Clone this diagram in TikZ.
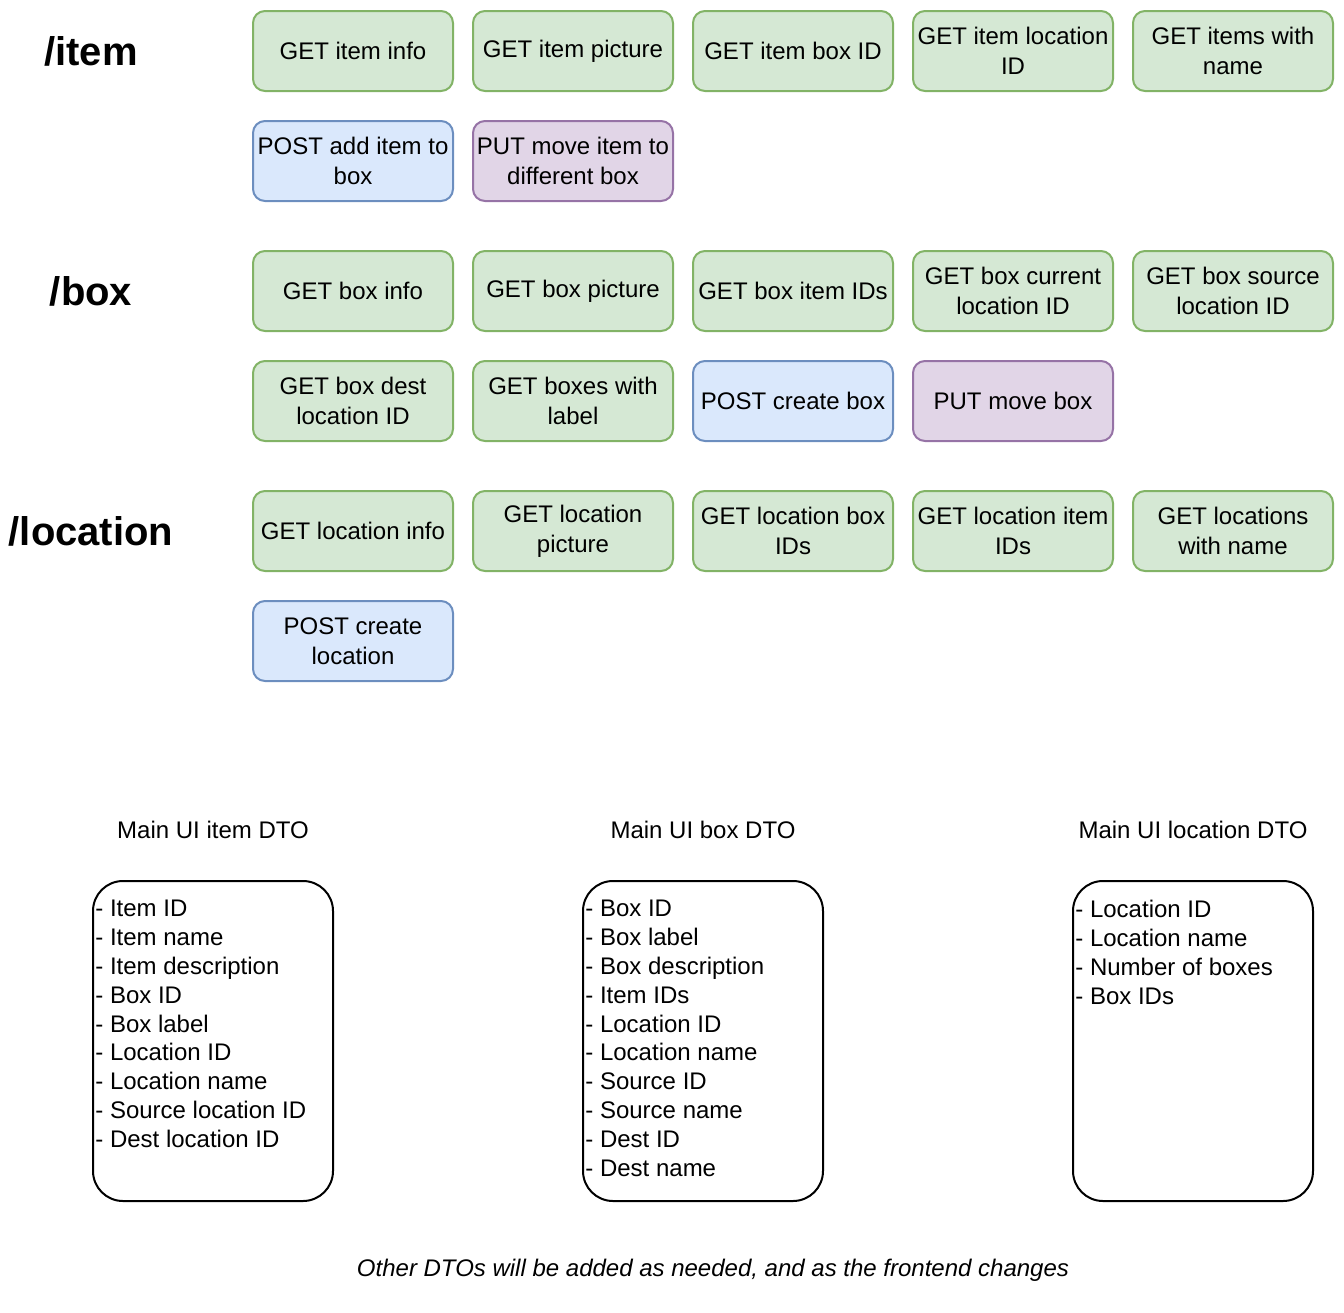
\documentclass[tikz,border=0pt]{standalone}
\usepackage{fontspec}
\setmainfont{Liberation Sans}
\definecolor{getfill}{HTML}{D5E8D4}
\definecolor{getline}{HTML}{82B366}
\definecolor{postfill}{HTML}{DAE8FC}
\definecolor{postline}{HTML}{6C8EBF}
\definecolor{putfill}{HTML}{E1D5E7}
\definecolor{putline}{HTML}{9673A6}
\tikzset{
  route/.style={rounded corners=6pt,line width=1pt,minimum width=100pt,minimum height=40pt,
    align=center,inner sep=1pt,font=\fontsize{12}{15}\selectfont},
  getbox/.style={route,fill=getfill,draw=getline},
  postbox/.style={route,fill=postfill,draw=postline},
  putbox/.style={route,fill=putfill,draw=putline},
  heading/.style={font=\fontsize{20}{24}\selectfont\bfseries},
  dtobox/.style={draw,line width=1pt,rounded corners=15pt,minimum width=120pt,minimum height=160pt},
  dtotitle/.style={font=\fontsize{12}{14.4}\selectfont},
  dtolist/.style={anchor=north west,align=left,inner sep=0pt,font=\fontsize{12}{14.4}\selectfont}
}

\begin{document}
\begin{tikzpicture}[x=0.5pt,y=-0.5pt]
    \useasboundingbox (0,0) rectangle (1344,1312);
    % /item
    \node[heading] (hItem) at (91,51) {/item};
    \node[getbox] (itemInfo) at (353,51) {GET item info};
    \node[getbox] (itemPic) at (573,51) {GET item picture};
    \node[getbox] (itemBox) at (793,51) {GET item box ID};
    \node[getbox] (itemLoc) at (1013,51) {GET item location\\ID};
    \node[getbox] (itemName) at (1233,51) {GET items with\\name};
    \node[postbox] (itemAdd) at (353,161) {POST add item to\\box};
    \node[putbox] (itemMove) at (573,161) {PUT move item to\\different box};
    % /box
    \node[heading] (hBox) at (91,291) {/box};
    \node[getbox] (boxInfo) at (353,291) {GET box info};
    \node[getbox] (boxPic) at (573,291) {GET box picture};
    \node[getbox] (boxItems) at (793,291) {GET box item IDs};
    \node[getbox] (boxCur) at (1013,291) {GET box current\\location ID};
    \node[getbox] (boxSrc) at (1233,291) {GET box source\\location ID};
    \node[getbox] (boxDest) at (353,401) {GET box dest\\location ID};
    \node[getbox] (boxLabel) at (573,401) {GET boxes with\\label};
    \node[postbox] (boxCreate) at (793,401) {POST create box};
    \node[putbox] (boxMove) at (1013,401) {PUT move box};
    % /location
    \node[heading] (hLoc) at (91,531) {/location};
    \node[getbox] (locInfo) at (353,531) {GET location info};
    \node[getbox] (locPic) at (573,531) {GET location\\picture};
    \node[getbox] (locBoxes) at (793,531) {GET location box\\IDs};
    \node[getbox] (locItems) at (1013,531) {GET location item\\IDs};
    \node[getbox] (locName) at (1233,531) {GET locations\\with name};
    \node[postbox] (locCreate) at (353,641) {POST create\\location};
    % DTOs
    \node[dtotitle] (tItem) at (213,830) {Main UI item DTO};
    \node[dtotitle] (tBox) at (703,830) {Main UI box DTO};
    \node[dtotitle] (tLoc) at (1193,830) {Main UI location DTO};
    \node[dtobox] (dtoItem) at (213,1041) {};
    \node[dtobox] (dtoBox) at (703,1041) {};
    \node[dtobox] (dtoLoc) at (1193,1041) {};
    \node[dtolist] (lItem) at (95,900) {- Item ID\\- Item name\\- Item description\\- Box ID\\- Box label\\
      - Location ID\\- Location name\\- Source location ID\\- Dest location ID};
    \node[dtolist] (lBox) at (585,900) {- Box ID\\- Box label\\- Box description\\- Item IDs\\- Location ID\\
      - Location name\\- Source ID\\- Source name\\- Dest ID\\- Dest name};
    \node[dtolist] (lLoc) at (1075,900) {- Location ID\\- Location name\\- Number of boxes\\- Box IDs};
    \node[dtotitle,font=\fontsize{12}{14.4}\selectfont\itshape] (note) at (713,1270)
      {Other DTOs will be added as needed, and as the frontend changes};
  \end{tikzpicture}
\end{document}
